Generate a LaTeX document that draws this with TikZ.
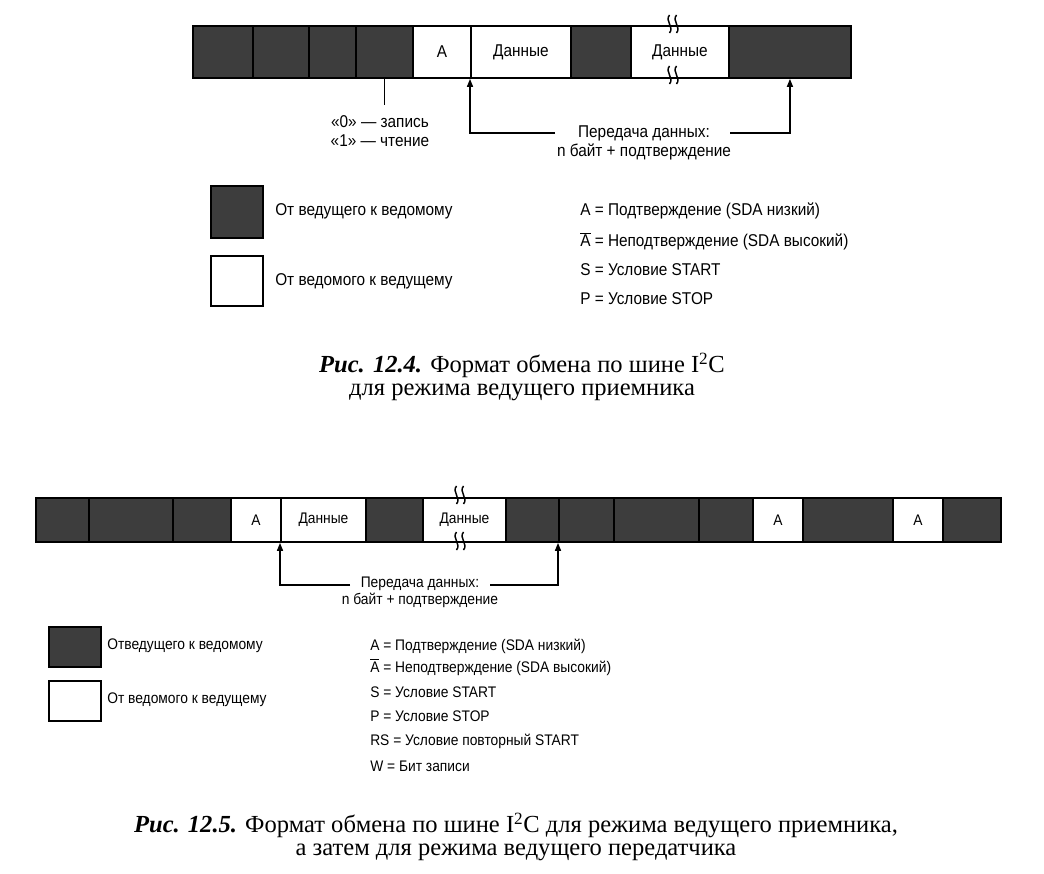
\documentclass[tikz,border=0pt]{standalone}
\usepackage{fontspec}
\setmainfont{Liberation Serif}
\newfontfamily\lblfont[FakeStretch=0.9]{Liberation Sans}
\usetikzlibrary{arrows.meta}

\tikzset{
  segw/.style={minimum width=#1*0.75pt},
  dk/.style={draw=black, line width=1.4pt, fill=black!76, inner sep=0pt, anchor=north west},
  wt/.style={draw=black, line width=1.4pt, fill=white, inner sep=0pt, anchor=north west},
  arr/.style={-{Triangle[length=6pt,width=4.5pt]}, line width=1.1pt},
  lbl/.style={font=\lblfont\fontsize{12.8}{14.8}\selectfont, inner sep=0pt},
  sml/.style={font=\lblfont\fontsize{11.5}{12.8}\selectfont, inner sep=0pt},
  captxt/.style={font=\fontsize{18.4}{17.5}\selectfont, align=center, inner sep=0pt},
}
% break mark across a bar edge
\newcommand{\gapmark}[2]{%
  \foreach \dx in {-3.5,3.5}
    \draw[line width=1.1pt] (#1+\dx,#2-9) .. controls (#1+\dx-5,#2-3) and (#1+\dx+5,#2+3) .. (#1+\dx,#2+9);
}

\begin{document}
\begin{tikzpicture}[x=0.75pt,y=-0.75pt]
\useasboundingbox (0,0) rectangle (1044,873);

% --- Fig. 12.4 ---
\begin{scope}[every node/.append style={minimum height=39pt}]
\node[dk,segw=60] (t1) at (192,25) {};
\node[dk,segw=56] (t2) at (252,25) {};
\node[dk,segw=47] (t3) at (308,25) {};
\node[dk,segw=57] (t4) at (355,25) {};
\node[wt,segw=58,lbl] (tA) at (412,25) {A};
\node[wt,segw=100,lbl] (tD1) at (470,25) {Данные};
\node[dk,segw=60] (t5) at (570,25) {};
\node[wt,segw=98,lbl] (tD2) at (630,25) {Данные};
\node[dk,segw=122] (t6) at (728,25) {};
\end{scope}
\gapmark{673}{24}
\gapmark{673}{75}

\node[lbl,align=center] (rw) at (380,131) {«0» — запись\\«1» — чтение};
\draw[line width=1.1pt,shorten >=7pt] (t4.south) -- (t4.south |- rw.north);

\node[lbl,align=center] (pd) at (644,143) {Передача данных:\\n байт + подтверждение};
\coordinate (pl) at (555,133);
\coordinate (pr) at (730,133);
\draw[arr] (pl) -| (tD1.south west);
\draw[arr] (pr) -| (t6.south);

\node[dk,segw=52,minimum height=39pt] (kd1) at (210,185) {};
\node[wt,segw=52,minimum height=37.5pt] (kw1) at (210,255) {};
\node[lbl,anchor=west] (kdt1) at (275,211) {От ведущего к ведомому};
\node[lbl,anchor=west] (kwt1) at (275,281) {От ведомого к ведущему};

\node[lbl,anchor=west] (m1) at (580,211) {A = Подтверждение (SDA низкий)};
\node[lbl,anchor=west] (m2) at (580,241) {$\overline{\mbox{A}}$ = Неподтверждение (SDA высокий)};
\node[lbl,anchor=west] (m3) at (580,270) {S = Условие START};
\node[lbl,anchor=west] (m4) at (580,299) {P = Условие STOP};

\node[captxt] (c1) at (522,377) {\textbf{\textit{Рис. 12.4.}} Формат обмена по шине I\textsuperscript{2}C\\для режима ведущего приемника};

% --- Fig. 12.5 ---
\begin{scope}[every node/.append style={minimum height=33pt}]
\node[dk,segw=53] (b1) at (35,497) {};
\node[dk,segw=84] (b2) at (88,497) {};
\node[dk,segw=58] (b3) at (172,497) {};
\node[wt,segw=50,sml] (bA1) at (230,497) {A};
\node[wt,segw=85,sml] (bD1) at (280,497) {Данные};
\node[dk,segw=57] (b4) at (365,497) {};
\node[wt,segw=83,sml] (bD2) at (422,497) {Данные};
\node[dk,segw=53] (b5) at (505,497) {};
\node[dk,segw=55] (b6) at (558,497) {};
\node[dk,segw=85] (b7) at (613,497) {};
\node[dk,segw=54] (b8) at (698,497) {};
\node[wt,segw=50,sml] (bA2) at (752,497) {A};
\node[dk,segw=90] (b9) at (802,497) {};
\node[wt,segw=50,sml] (bA3) at (892,497) {A};
\node[dk,segw=58] (b10) at (942,497) {};
\end{scope}
\gapmark{460}{495}
\gapmark{460}{541}

\node[sml,align=center] (pd2) at (420,592) {Передача данных:\\n байт + подтверждение};
\coordinate (ql) at (350,585);
\coordinate (qr) at (490,585);
\draw[arr] (ql) -| (bD1.south west);
\draw[arr] (qr) -| (b6.south west);

\node[dk,segw=52,minimum height=30pt] (kd2) at (48,626) {};
\node[wt,segw=52,minimum height=30pt] (kw2) at (48,680) {};
\node[sml,anchor=west] (kdt2) at (107,646) {Отведущего к ведомому};
\node[sml,anchor=west] (kwt2) at (107,700) {От ведомого к ведущему};

\node[sml,anchor=west] (n1) at (370,646) {A = Подтверждение (SDA низкий)};
\node[sml,anchor=west] (n2) at (370,667) {$\overline{\mbox{A}}$ = Неподтверждение (SDA высокий)};
\node[sml,anchor=west] (n3) at (370,692) {S = Условие START};
\node[sml,anchor=west] (n4) at (370,716) {P = Условие STOP};
\node[sml,anchor=west] (n5) at (370,741) {RS = Условие повторный START};
\node[sml,anchor=west] (n6) at (370,766) {W = Бит записи};

\node[captxt] (c2) at (516,837) {\textbf{\textit{Рис. 12.5.}} Формат обмена по шине I\textsuperscript{2}C для режима ведущего приемника,\\а затем для режима ведущего передатчика};
\end{tikzpicture}
\end{document}
